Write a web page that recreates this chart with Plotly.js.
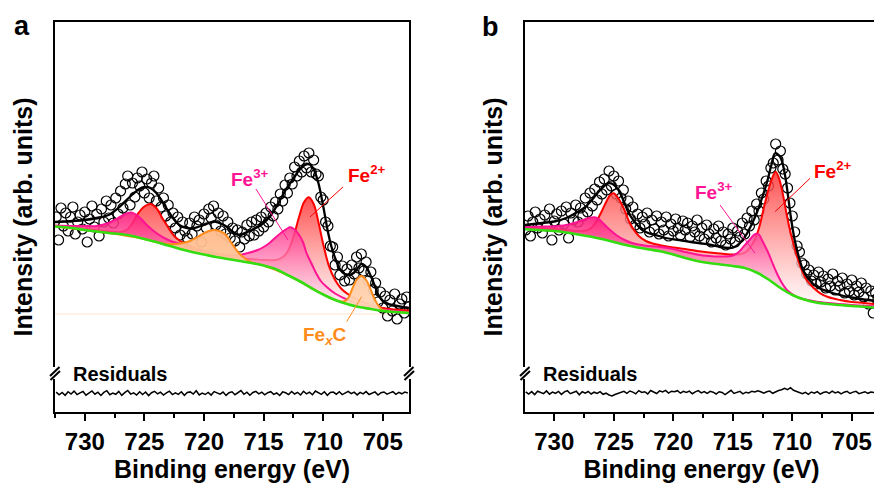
<!DOCTYPE html>
<html><head><meta charset="utf-8">
<script src="https://cdn.plot.ly/plotly-3.0.1.min.js"></script>
<style>html,body{margin:0;padding:0;overflow:hidden;background:#fff;}#chart{width:882px;height:487px;}</style>
</head><body><div id="chart"></div>
<script>
// ---------- Panel a ----------
const bgE_a = [732.5,731,730,729,728,727,726,725,724,723,722,721,720,719,718,717,716,715,714,713,712,711,710,709,708,707,706,705,704,702.8];
const bg_a  = [185.5,184,182,180.5,179,178,176,173,170,166.5,163,160,157.5,155,153,151,149,146.5,143,137,131,124,117.5,112,108,105,103,101,100,99];

const fe3E_a = [732.5,731,730,729,728,727.5,727,726.5,726.1,725.7,725.3,724.8,724,723,722,721,720,719,718,717,716.4,715.5,715,714.5,714,713.5,713,712.8,712.5,712.1,711.7,711.4,711,710.6,710.2,709.7,709,708,707,706,705,704,702.8];
const fe3_a  = [186.5,186,186,186,189,192,195.5,198.5,199.5,197.5,193.5,187,179,172,168,164.5,161,158.5,157,157,158.7,162,165,169,174.5,179.5,183.5,184.7,183.5,178.5,170,159,149,139,131,125,118.5,112.5,108,105,102.5,101,100];

const fe2E_a = [732.5,730,728,727,726.5,726,725.5,725,724.5,724,723.5,723,722.5,722,721,720,719,718,717,716,715,714,713.5,713,712.5,712,711.6,711.2,710.8,710.4,710,709.5,709,708.5,708,707.2,706,705,704,702.8];
const fe2_a  = [186,183,180.5,180,182,189,199,205.5,208,204,194,184.5,176,171,165,161,158,156,154,153,152,152,154,160,175,196,210,214.7,208,190,168,145.3,132,123.5,118.5,112.7,107,104,102.5,101.5];

const fexcE_a = [732.5,728,725,723.5,723,722.4,721.8,721.3,720.7,720.2,719.6,719.1,718.6,718.2,717.8,717.4,717,716.5,716,715,713,711,709.5,709,708.5,708.2,707.9,707.5,707.2,706.8,706.4,706.1,705.8,705.5,705.2,705,704.5,704,702.8];
const fexc_a  = [185.5,179,173,168.5,168,168,169,170.5,174,177.5,181,182,180.5,177.5,171,164,158,153,149.5,146.5,137,124,114.5,112.2,110.5,110.8,114,125,132,136,132,125,116,108.7,104,102,100.8,100.3,99.3];

const fitE_a = [732.5,731,730,729,728,727.5,727,726.5,726,725.5,725,724.5,724,723.5,723,722.5,722,721.5,721,720.5,720,719.5,719.1,718.5,718,717.5,717,716.4,716,715.5,715,714.5,714,713.5,713,712.5,712,711.6,711.3,711,710.7,710.4,710,709.6,709.3,709,708.6,708.2,707.8,707.4,707.1,706.8,706.5,706.1,705.7,705.3,705,704.5,704,703,702.8];
const fit_a  = [190,191,192,194,197,201,206,212,217.5,222.5,225,224,219,210.5,201,192.5,186.5,184,183.5,185,187,189.5,190.3,188,184.5,179.5,177,180,182,185,189,195,204,214.5,225,233.5,242,246.5,248,246.5,240,229,206,180,165,154,143,138,137,139.5,144,148,146.5,138.5,127,115.5,111,108,106.5,104.5,104];

// measured points, 732.4 eV downwards in 0.2 eV steps
const data_a = [195,172,204,186,199,181,195,205,178,190,
197,183,200,170,193,206,185,198,176,203,
190,211,194,207,189,214,198,221,204,228,
236,207,229,215,234,226,240,219,233,214,
229,236,211,224,205,214,196,207,190,199,
184,195,177,190,181,174,189,178,195,186,
192,170,198,184,203,194,206,187,199,181,
196,178,190,174,184,171,182,165,180,173,
187,176,190,177,192,181,195,185,199,190,
205,196,210,203,218,211,227,219,234,228,
245,236,251,240,256,244,259,240,252,238,
236,215,212,190,186,166,165,147,155,137,
146,131,143,132,147,138,155,144,158,141,
150,131,140,122,129,110,120,104,116,96,
112,101,118,93,108,113,99,115,105];

// residuals, 732.4 eV downwards in 0.25 eV steps
const resid_a = [1.2,-1.5,0.8,-2.0,1.6,-0.7,2.2,-1.3,0.4,1.8,
-1.9,0.6,2.4,-0.9,1.1,-2.2,0.9,2.6,-1.4,0.3,
-1.0,1.9,-2.1,0.7,2.8,-0.8,0.5,-1.7,1.6,-1.2,
1.3,-2.3,0.6,2.0,-0.6,1.2,-1.8,0.4,2.1,-1.3,
0.5,-1.0,1.5,-2.0,0.8,1.4,-0.7,2.5,-1.6,0.3,
-1.2,0.9,-1.8,1.7,0.2,-0.9,1.2,-2.1,0.6,1.5,
-1.4,0.5,2.7,-1.0,1.1,-1.9,0.8,1.9,-0.5,1.2,
-1.6,0.6,1.6,-1.1,0.3,-2.2,1.4,0.5,-1.3,1.8,
-0.7,1.0,-1.7,2.0,-0.5,1.1,-1.4,2.3,0.2,-1.0,
1.5,-2.0,0.8,1.2,-0.9,1.6,-1.3,0.7,1.9,-0.4,
1.1,-1.6,0.9,-0.6,1.7,-1.2,0.5,1.4,-1.8,0.6,
1.3,-0.8,0.4,1.6,-1.1,0.9,-0.5,1.2,0.3];

// ---------- Panel b ----------
const bgE_b = [732.46,731,730,729,728,727,726,725,724,723,722,721,720,719,718,717,716,715,714,713,712,711,710,709,708,707,706,705,704,702.8];
const bg_b  = [182.7,181.7,181,179.5,177.5,175.5,173,170,167,164.5,162.5,160.5,157.5,154,151,149,147.5,146,144,139.5,132.5,124,117,112.5,109.5,108,107,106,105.2,104.2];

const fe3E_b = [732.46,731,729.66,728.8,728.25,727.6,727,726.6,726.2,725.9,725.4,724.8,724.1,723.4,722.3,721.25,720,719,718,717,716,715,714.5,714.1,713.6,713.1,712.8,712.55,712.3,712,711.6,711.3,710.9,710.45,709.9,709.35,708.5,707.95,707,706,705,704,702.8];
const fe3_b  = [185,185.5,186,187.5,189.3,192,194.3,194.7,192.5,188.7,183,177,172,168.7,166.3,165.3,163,160,157.5,156,155.5,156.5,160,165.3,172,178,177.5,172,166,158.7,147,138.7,129.5,122,117,113.7,111.5,110.3,109,108,107,106.3,105.5];

const fe2E_b = [732.46,731,730,729,728,727.3,726.8,726.4,726,725.6,725.3,725,724.7,724.3,724,723.7,723.3,722.9,722.3,721.8,721,720,719,718,717,716,715,714.3,713.8,713.3,712.85,712.3,711.75,711.4,711.1,710.75,710.5,710.2,709.9,709.6,709.2,708.8,708.2,707.65,707,706,705,704,702.8];
const fe2_b  = [184.5,183.5,183,182,181,181.5,185,192,201,211,217,218.7,215,207,199,190,182,176,171,168.7,166.5,164.5,163,161,159.5,158.5,157.5,158,161,169,182,208.7,232,240.3,233,215.3,199,182,168,155.3,142,132,124,118.7,115,112,110,109,107.5];

const fitE_b = [732.46,731,730,729,728.25,727.5,726.85,726.3,725.8,725.45,725.1,724.6,724.2,723.75,723.2,722.6,722,721.2,720.65,719.5,718.5,717.75,717,716.07,715.3,714.95,714.4,713.8,713.4,713,712.6,712.15,711.8,711.45,711.15,710.9,710.6,710.35,710.1,709.8,709.45,709.1,708.6,707.95,707,706,705,704,702.8];
const fit_b  = [187,189,190.5,194,198.7,204,212,220,226,228.7,228,222,212,199,189.5,182,178.5,176,174,172,170,168.7,167.5,165,164,164.5,169,178.7,188,198.7,212,228.7,245,258.7,257,252,236,215.3,193,172,155,142,132.5,125.3,120.5,117,114.5,112.5,110.8];

const data_b = [182,196,176,190,200,184,193,179,197,186,
203,172,191,198,182,201,188,205,174,199,
192,207,190,204,196,214,200,219,206,223,
212,230,218,233,222,241,226,236,218,231,
214,222,203,211,193,205,187,198,184,195,
188,199,180,192,183,196,178,190,182,195,
176,188,181,193,184,177,191,182,189,175,
186,180,192,176,184,173,187,178,170,183,
174,186,171,180,167,178,173,184,170,181,
175,189,178,194,186,201,192,208,201,219,
213,231,226,244,249,268,252,261,243,238,
224,209,196,180,166,160,149,147,138,142,
131,137,128,140,130,136,124,133,126,138,
122,131,126,134,119,128,121,132,117,126,
120,129,115,124,108,121,99,119,113];

const resid_b = [0.9,-1.4,1.1,-1.9,1.5,0.3,-0.9,1.8,-1.5,0.6,
-0.6,1.3,-1.7,0.8,2.0,-1.0,0.2,1.5,-2.1,1.0,
-0.4,1.2,-1.3,0.5,-0.8,1.1,-1.6,-0.5,-2.3,-3.2,
-1.8,-0.6,0.9,1.4,-0.7,1.7,0.6,-1.1,2.1,0.3,
1.0,-1.2,2.2,0.4,-0.8,1.8,0.7,2.3,-0.4,1.5,
1.0,2.0,-0.5,1.3,0.3,1.6,-1.0,0.8,2.1,-0.2,
1.1,-0.7,1.4,0.5,-1.3,1.0,0.2,-1.8,0.7,2.4,
-0.8,0.4,1.3,-1.1,0.5,-0.3,1.5,0.7,2.0,1.0,
-0.4,0.9,1.6,-0.6,1.2,2.2,3.0,4.4,3.1,5.0,
2.4,1.2,0.3,-1.0,0.4,-1.6,0.7,-0.5,1.1,-1.4,
0.2,1.0,-0.7,1.6,-0.3,0.8,-1.2,0.5,1.3,-0.8,
0.6,1.4,-0.9,0.3,1.0,-0.6,0.7,0.2,-0.3];

const xTickStart = 730, xTickStep = 5;
const xTitle = 'Binding energy (eV)', yTitle = 'Intensity (arb. units)';

// ---------- styling / build ----------
const FONT = 'Liberation Sans, Arial, Helvetica, sans-serif';
const GREEN = '#33dd11', RED = '#ff0000', PINK = '#ff1493', ORANGE = '#ff8c1a';
const W = 882, H = 487, L = 55, T = 22, B = 75, R = 4;
const PW = W - L - R, PH = H - T - B;
const px = x => (x - L) / PW, py = y => (H - B - y) / PH;

const gradRed  = {type:'vertical', colorscale:[[0,'rgba(255,255,255,0.72)'],[1,'rgba(255,50,50,0.85)']]};
const gradPink = {type:'vertical', colorscale:[[0,'rgba(255,255,255,0.7)'],[1,'rgba(255,20,120,0.88)']]};
const gradOr   = {type:'vertical', colorscale:[[0,'rgba(255,215,185,0.95)'],[1,'rgba(255,185,135,0.95)']]};

function dataTrace(xa, ya, v){ return {type:'scatter', mode:'markers', x0:732.4, dx:-0.2, y:v, xaxis:xa, yaxis:ya,
  marker:{symbol:'circle-open', size:10, color:'#000', line:{width:1.2, color:'#000'}}, hoverinfo:'skip'}; }
function bgTrace(xa, ya, E, v, show){ return {type:'scatter', mode:'lines', x:E, y:v, xaxis:xa, yaxis:ya,
  line:{width: show ? 2.6 : 0, color: GREEN, shape:'spline'}, hoverinfo:'skip'}; }
function compTrace(xa, ya, E, v, col, grad){ return {type:'scatter', mode:'lines', x:E, y:v, xaxis:xa, yaxis:ya,
  line:{width:2, color:col, shape:'spline'}, fill:'tonexty', fillcolor:'rgba(0,0,0,0)', fillgradient:grad, hoverinfo:'skip'}; }
function fitTrace(xa, ya, E, v){ return {type:'scatter', mode:'lines', x:E, y:v, xaxis:xa, yaxis:ya,
  line:{width:2.3, color:'#000', shape:'spline'}, hoverinfo:'skip'}; }
function residTrace(xa, ya, r, off){ return {type:'scatter', mode:'lines', x0:732.4, dx:-0.25, y:r.map(d => d + off), xaxis:xa, yaxis:ya,
  line:{width:1.5, color:'#000'}, hoverinfo:'skip'}; }

const traces = [
  dataTrace('x','y',data_a),
  bgTrace('x','y',bgE_a,bg_a,false), compTrace('x','y',fe2E_a,fe2_a,RED,gradRed),
  bgTrace('x','y',bgE_a,bg_a,false), compTrace('x','y',fe3E_a,fe3_a,PINK,gradPink),
  bgTrace('x','y',bgE_a,bg_a,false), compTrace('x','y',fexcE_a,fexc_a,ORANGE,gradOr),
  bgTrace('x','y',bgE_a,bg_a,true), fitTrace('x','y',fitE_a,fit_a), residTrace('x','y',resid_a,18.7),

  dataTrace('x2','y2',data_b),
  bgTrace('x2','y2',bgE_b,bg_b,false), compTrace('x2','y2',fe2E_b,fe2_b,RED,gradRed),
  bgTrace('x2','y2',bgE_b,bg_b,false), compTrace('x2','y2',fe3E_b,fe3_b,PINK,gradPink),
  bgTrace('x2','y2',bgE_b,bg_b,true), fitTrace('x2','y2',fitE_b,fit_b), residTrace('x2','y2',resid_b,19.3)
];

function xAxis(dom, range, anchor){ return {domain:dom, range:range, anchor:anchor, showline:true, linewidth:2, linecolor:'#000', mirror:true,
  ticks:'outside', ticklen:7, tickwidth:2, tickcolor:'#000', tickmode:'linear', tick0:xTickStart, dtick:xTickStep,
  minor:{tick0:xTickStart, dtick:xTickStep/2, ticks:'outside', ticklen:4, tickwidth:2, tickcolor:'#000'},
  showgrid:false, zeroline:false, tickfont:{family:FONT, size:24, color:'#000', weight:'bold'},
  title:{text:xTitle, font:{family:FONT, size:25, color:'#000', weight:'bold'}, standoff:6}}; }
function yAxis(anchor){ return {domain:[0,1], range:[0,PH], anchor:anchor, showline:true, linewidth:2, linecolor:'#000', mirror:true,
  ticks:'', showticklabels:false, showgrid:false, zeroline:false,
  title:{text:yTitle, font:{family:FONT, size:25, color:'#000', weight:'bold'}, standoff:13}}; }

const shapes = [];
function brk(x){
  const y = 373;
  shapes.push({type:'rect', xref:'paper', yref:'paper', x0:px(x-4), x1:px(x+4), y0:py(379), y1:py(367), fillcolor:'#fff', line:{width:0}, layer:'above'});
  shapes.push({type:'line', xref:'paper', yref:'paper', x0:px(x-5), y0:py(y+3), x1:px(x+4.5), y1:py(y-6), line:{color:'#000', width:2}, layer:'above'});
  shapes.push({type:'line', xref:'paper', yref:'paper', x0:px(x-4.5), y0:py(y+7), x1:px(x+5), y1:py(y-2), line:{color:'#000', width:2}, layer:'above'});
}
brk(55); brk(409); brk(525);
shapes.push({type:'line', xref:'x', yref:'y', x0:732.5, x1:702.8, y0:98, y1:98, line:{color:'#fde2cc', width:1}, layer:'below'});
function lead(xr, yr, e0, v0, e1, v1, col){ shapes.push({type:'line', xref:xr, yref:yr, x0:e0, y0:v0, x1:e1, y1:v1, line:{color:col, width:1}}); }
lead('x','y',715.64,223,712.95,172,PINK);
lead('x','y',708.34,225,711.11,195,RED);
lead('x','y',708.03,90.3,706.77,115.3,ORANGE);
lead('x2','y2',716.07,207,713.13,158.7,PINK);
lead('x2','y2',708.51,233.7,711.45,200.3,RED);

function lab(text, x, y, size, col, xanchor){ return {text:text, xref:'paper', yref:'paper', x:px(x), y:py(y), xanchor:xanchor||'left', yanchor:'middle',
  showarrow:false, font:{family:FONT, size:size, color:col, weight:'bold'}}; }
const annotations = [
  lab('a', 22, 26, 27, '#000', 'center'),
  lab('b', 491, 27, 27, '#000', 'center'),
  lab('Fe<sup>3+</sup>', 229, 178, 19, PINK),
  lab('Fe<sup>2+</sup>', 346, 174, 19, RED),
  lab('Fe<sub><i>x</i></sub>C', 301, 336, 19, ORANGE),
  lab('Fe<sup>3+</sup>', 693, 191, 19, PINK),
  lab('Fe<sup>2+</sup>', 812, 170, 19, RED),
  lab('Residuals', 71, 374, 20, '#000'),
  lab('Residuals', 541, 374, 20, '#000')
];

const layout = {width:W, height:H, margin:{l:L, r:R, t:T, b:B, autoexpand:false}, paper_bgcolor:'#fff', plot_bgcolor:'rgba(0,0,0,0)',
  showlegend:false, hovermode:false,
  xaxis: xAxis([0, px(409)], [732.5, 702.8], 'y'),
  xaxis2: xAxis([px(525), 1], [732.46, 702.8], 'y2'),
  yaxis: yAxis('x'), yaxis2: yAxis('x2'),
  shapes: shapes, annotations: annotations, font:{family:FONT}};

Plotly.newPlot('chart', traces, layout, {staticPlot:true, displayModeBar:false});
</script></body></html>
